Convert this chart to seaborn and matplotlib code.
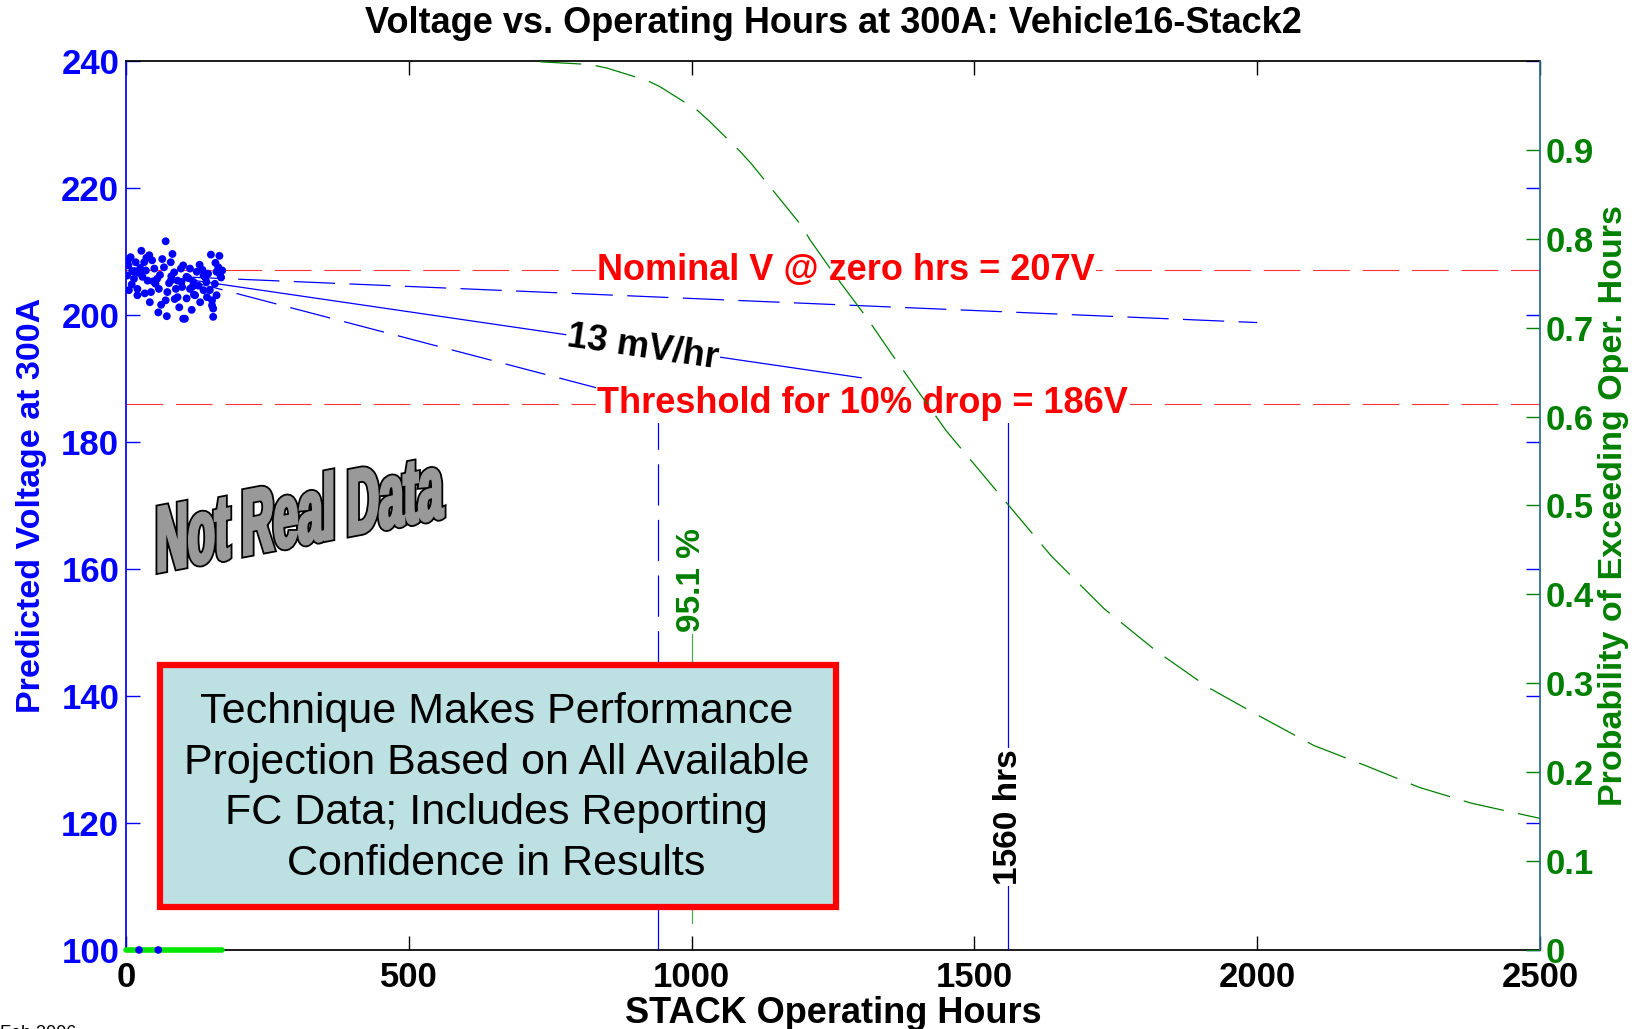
import numpy as np
import pandas as pd
import matplotlib
matplotlib.use("Agg")
import matplotlib.pyplot as plt
import seaborn as sns
from matplotlib.textpath import TextPath
from matplotlib.patches import PathPatch, Rectangle
from matplotlib.font_manager import FontProperties
from matplotlib.transforms import Affine2D

# -------------------------
# Data
# -------------------------
scatter_hrs = [70, 27, 41, 82, 79, 8, 17, 32, 50, 67,
               97, 2, 14, 29, 38, 55, 79, 91, 5, 20,
               44, 58, 73, 88, 20, 70, 91, 94, 72, 101,
               150, 165, 163, 160, 101, 113, 125, 137, 107, 98,
               119, 142, 157, 113, 137, 148, 122, 143, 160, 107,
               131, 152, 152, 154, 104, 154,
               4, 11, 23, 35, 46, 60, 85, 110, 130, 145, 168,
               10, 25, 52, 64, 76, 118, 135, 158,
               33, 48, 86, 128, 170,
               3, 62, 99, 140,
               15, 42, 80, 116, 166,
               57, 36, 120]
scatter_volts = [211.6, 210.1, 209.4, 209.6, 208.3, 209.1, 208.3, 208.3, 207.3, 207.5,
                 207.3, 206.2, 205.7, 206.0, 205.4, 205.7, 205.4, 205.4, 203.9, 204.1,
                 203.6, 204.1, 203.6, 204.1, 203.1, 202.3, 202.8, 201.2, 199.8, 199.4,
                 209.5, 209.3, 207.5, 206.8, 207.8, 207.3, 206.8, 206.2, 206.0, 205.2,
                 205.2, 205.2, 204.9, 204.1, 203.9, 203.9, 203.1, 202.8, 203.1, 202.6,
                 202.0, 202.3, 201.5, 201.0, 199.4, 199.7,
                 207.8, 206.9, 206.6, 207.0, 208.6, 206.3, 206.7, 205.8, 207.9, 206.5, 205.9,
                 204.8, 207.4, 204.9, 208.8, 205.0, 204.5, 207.1, 208.2,
                 203.4, 205.3, 202.5, 204.6, 207.0,
                 208.5, 201.6, 204.4, 205.9,
                 206.9, 202.0, 206.1, 200.8, 206.4,
                 200.4, 209.0, 203.2]

floor_dot_hrs = [23, 57]
floor_bar_hrs = [0, 170]

upper_hrs, upper_v = [100, 2000], [206.0, 198.8]
fit_hrs, fit_v = [100, 1300], [205.7, 190.1]
lower_hrs, lower_v = [100, 940], [205.6, 186.0]

nominal_v = 207
threshold_v = 186
lower_cross_hrs = 940
fit_cross_hrs = 1560
prob_at_1000 = 0.951

prob_hrs = [732, 820, 850, 921, 944, 1009, 1030, 1086, 1106, 1195, 1209, 1251, 1312,
            1354, 1450, 1558, 1636, 1729, 1822, 1914, 2007, 2100, 2193, 2286, 2379, 2500]
prob_vals = [0.999, 0.996, 0.992, 0.978, 0.971, 0.945, 0.933, 0.898, 0.884, 0.814, 0.799,
             0.761, 0.709, 0.670, 0.584, 0.502, 0.443, 0.384, 0.336, 0.295, 0.262, 0.230,
             0.207, 0.183, 0.165, 0.148]

x_ticks = [0, 500, 1000, 1500, 2000, 2500]
v_ticks = [100, 120, 140, 160, 180, 200, 220, 240]
p_ticks = [0, 0.1, 0.2, 0.3, 0.4, 0.5, 0.6, 0.7, 0.8, 0.9]
p_labels = ["0", "0.1", "0.2", "0.3", "0.4", "0.5", "0.6", "0.7", "0.8", "0.9"]

df = pd.DataFrame({"hrs": scatter_hrs, "volts": scatter_volts})

# -------------------------
# Style
# -------------------------
sns.set_theme(style="white")
plt.rcParams["font.family"] = ["Liberation Sans", "DejaVu Sans"]
plt.rcParams["font.weight"] = "bold"

DASH = [33, 11.5]

fig = plt.figure(figsize=(16.48, 10.29), dpi=100)
ax = fig.add_axes([0.0765, 0.0768, 0.858, 0.864])
ax2 = ax.twinx()

# -------------------------
# Voltage side
# -------------------------
ax.axhline(nominal_v, color="#ff3333", lw=0.8, dashes=DASH, zorder=2)
ax.axhline(threshold_v, color="#ff3333", lw=0.8, dashes=DASH, zorder=2)

ax.plot(upper_hrs, upper_v, color="blue", lw=0.9, dashes=DASH, zorder=3)
ax.plot(lower_hrs, lower_v, color="blue", lw=0.9, dashes=DASH, zorder=3)
ax.plot(fit_hrs, fit_v, color="blue", lw=0.9, zorder=3)

ax.plot([lower_cross_hrs, lower_cross_hrs], [100, threshold_v], color="blue", lw=0.9,
        dashes=DASH, zorder=3)
ax.plot([fit_cross_hrs, fit_cross_hrs], [100, threshold_v], color="blue", lw=0.9, zorder=3)

sns.scatterplot(data=df, x="hrs", y="volts", ax=ax, color="blue", s=32,
                edgecolor="none", zorder=5)

ax.plot(floor_bar_hrs, [100, 100], color="#00e600", lw=4, solid_capstyle="round",
        clip_on=False, zorder=6)
sns.scatterplot(x=floor_dot_hrs, y=[100, 100], ax=ax, color="blue", s=30,
                edgecolor="none", clip_on=False, zorder=7)

# labels sit on the voltage axes; the probability curve is drawn over them
white = dict(facecolor="white", edgecolor="none", pad=1)
ax.text(833, nominal_v, "Nominal V @ zero hrs = 207V", color="red", fontsize=26,
        ha="left", va="center", bbox=white, zorder=8)
ax.text(833, threshold_v, "Threshold for 10% drop = 186V", color="red", fontsize=26,
        ha="left", va="center", bbox=white, zorder=8)
ax.text(914, 194.9, "13 mV/hr", color="black", fontsize=26, ha="center", va="center",
        rotation=-8.4, rotation_mode="anchor", bbox=white, zorder=8)
ax.text(fit_cross_hrs, 120.9, "1560 hrs", color="black", fontsize=24, ha="center",
        va="center", rotation=90, bbox=white, zorder=8)

ax.set_xlim(0, 2500)
ax.set_ylim(100, 240)
ax.set_xticks(x_ticks)
ax.set_yticks(v_ticks)
ax.tick_params(axis="x", direction="in", length=10, width=1, top=True, bottom=True,
               colors="black", labelsize=25, pad=8)
ax.tick_params(axis="y", direction="in", length=10, width=1, left=True, right=True,
               color="blue", labelcolor="blue", labelsize=25, pad=5)

ax.set_xlabel("STACK Operating Hours", fontsize=26, fontweight="bold", color="black")
ax.xaxis.set_label_coords(0.5, -0.052)
ax.set_ylabel("Predicted Voltage at 300A", fontsize=24.5, fontweight="bold", color="blue")
ax.yaxis.set_label_coords(-0.056, 0.5)
ax.set_title("Voltage vs. Operating Hours at 300A: Vehicle16-Stack2",
             fontsize=26, fontweight="bold", color="black", pad=20)

for s in ["top", "bottom"]:
    ax.spines[s].set_color("black")
ax.spines["left"].set_color("blue")
ax.spines["right"].set_visible(False)

# -------------------------
# Probability side
# -------------------------
sns.lineplot(x=prob_hrs, y=prob_vals, ax=ax2, color="green", lw=0.9,
             estimator=None, sort=False)
ax2.lines[-1].set_dashes(DASH)
ax2.plot([1000, 1000], [0.03, 0.355], color="green", lw=0.9, alpha=0.7)

ax2.set_ylim(0, 1)
ax2.set_yticks(p_ticks)
ax2.set_yticklabels(p_labels)
ax2.tick_params(axis="y", direction="in", length=10, width=1, color="green",
                labelcolor="green", labelsize=25, pad=4)
ax2.set_ylabel("Probability of Exceeding Oper. Hours", fontsize=24.5, fontweight="bold",
               color="green")
ax2.yaxis.set_label_coords(1.041, 0.5)
for s in ["top", "bottom", "left"]:
    ax2.spines[s].set_visible(False)
ax2.spines["right"].set_color("#2a6a8c")

ax2.text(1000, 0.416, f"{prob_at_1000 * 100:.1f} %", color="green", fontsize=24,
         ha="center", va="center", rotation=90, bbox=white, zorder=8)

ax2.add_patch(Rectangle((0.024, 0.048), 0.478, 0.273, transform=ax2.transAxes,
                        facecolor="#bde0e3", edgecolor="red", lw=4.5, zorder=10))
ax2.text(0.262, 0.182,
         "Technique Makes Performance\nProjection Based on All Available\n"
         "FC Data; Includes Reporting\nConfidence in Results",
         transform=ax2.transAxes, ha="center", va="center", fontsize=31,
         fontweight="normal", color="black", linespacing=1.34, zorder=11)

# "Not Real Data" stamp, sheared so the letters stand upright on a rising baseline
tp = TextPath((0, 0), "Not Real Data", size=1,
              prop=FontProperties(family=["Liberation Sans Narrow", "Liberation Sans"],
                                  weight="bold"))
ext = tp.get_extents()
tr = (Affine2D().translate(-ext.x0, 0)
      .scale(2.84 / ext.width, 0.92)
      .skew_deg(0, 10.8)
      .translate(1.59, (1029 - 571) / 100))
stamp = tr.transform_path(tp)
fig.add_artist(PathPatch(stamp, facecolor="black", edgecolor="black", lw=5,
                         transform=fig.dpi_scale_trans, zorder=20))
fig.add_artist(PathPatch(stamp, facecolor="#999999", edgecolor="#999999", lw=2.4,
                         transform=fig.dpi_scale_trans, zorder=21))

fig.text(0.0, 0.004, "Feb 2006", fontsize=13, fontweight="normal", color="black",
         ha="left", va="top")

fig.savefig("out.png", dpi=100)
